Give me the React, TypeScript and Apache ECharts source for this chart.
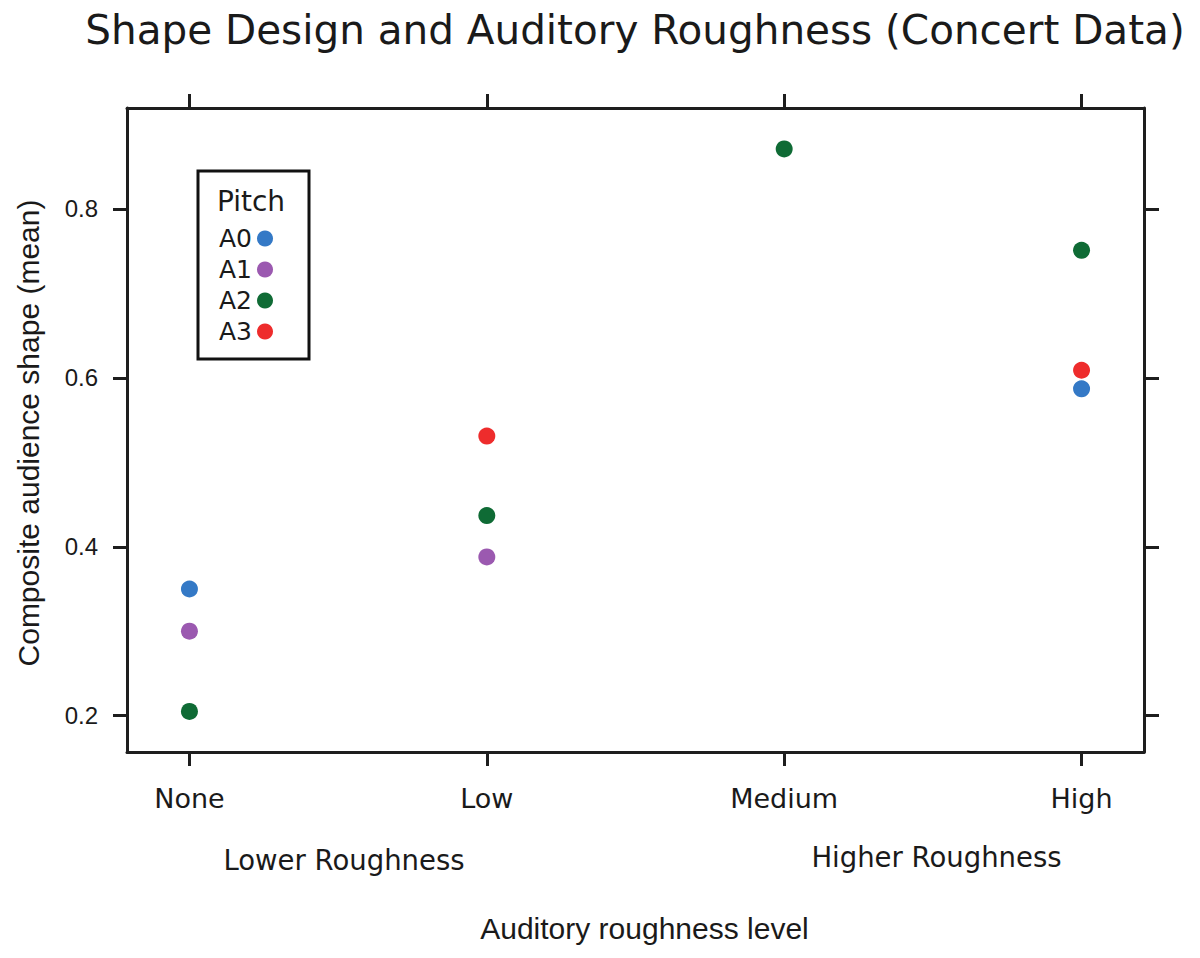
import React, { useEffect, useRef } from "react";
import * as echarts from "echarts";

const categories = ["None", "Low", "Medium", "High"];
const pitchNames = ["A0", "A1", "A2", "A3"];
const a0Values: (number | null)[] = [0.35, null, null, 0.587];
const a1Values: (number | null)[] = [0.3, 0.388, null, null];
const a2Values: (number | null)[] = [0.205, 0.437, 0.871, 0.751];
const a3Values: (number | null)[] = [null, 0.531, null, 0.609];
const yTickValues = [0.2, 0.4, 0.6, 0.8];
const xTickValues = [0, 1, 2, 3];

const pitchColors = ["#3479c6", "#9b59b0", "#0f6b35", "#ee2c2c"];
const seriesValues = [a0Values, a1Values, a2Values, a3Values];

const INK = "#1a1a1a";
const AXIS = "#1e1e1e";

export default function App() {
  const ref = useRef<HTMLDivElement>(null);

  useEffect(() => {
    document.body.style.margin = "0";
    if (!ref.current) return;
    const chart = echarts.init(ref.current, null, { renderer: "svg" });

    const axisLine = { show: true, onZero: false, lineStyle: { color: AXIS, width: 3 } };
    const tickStyle = { color: AXIS, width: 3 };

    const series = pitchNames.map((name, si) => ({
      name,
      type: "scatter",
      symbol: "circle",
      symbolSize: 17,
      itemStyle: { color: pitchColors[si], opacity: 1 },
      data: seriesValues[si]
        .map((v, i) => (v === null ? null : [i, v]))
        .filter((d) => d !== null),
    }));

    chart.setOption({
      animation: false,
      backgroundColor: "#ffffff",
      grid: { left: 127, right: 56, top: 108, bottom: 206 },
      xAxis: [
        {
          type: "value",
          position: "bottom",
          min: -0.21,
          max: 3.21,
          axisLine,
          splitLine: { show: false },
          axisTick: { show: true, customValues: xTickValues, length: 14, inside: false, lineStyle: tickStyle },
          axisLabel: {
            show: true,
            customValues: xTickValues,
            formatter: (v: number) => categories[Math.round(v)] ?? "",
            fontFamily: "DejaVu Sans",
            fontSize: 27,
            color: INK,
            margin: 33,
          },
        },
        {
          type: "value",
          position: "top",
          min: -0.21,
          max: 3.21,
          axisLine,
          splitLine: { show: false },
          axisTick: { show: true, customValues: xTickValues, length: 14, inside: false, lineStyle: tickStyle },
          axisLabel: { show: false },
        },
      ],
      yAxis: [
        {
          type: "value",
          position: "left",
          min: 0.157,
          max: 0.9195,
          axisLine,
          splitLine: { show: false },
          axisTick: { show: true, customValues: yTickValues, length: 14, inside: false, lineStyle: tickStyle },
          axisLabel: {
            show: true,
            customValues: yTickValues,
            formatter: (v: number) => v.toFixed(1),
            fontFamily: "Liberation Sans",
            fontSize: 24,
            color: INK,
            margin: 29,
          },
        },
        {
          type: "value",
          position: "right",
          min: 0.157,
          max: 0.9195,
          axisLine,
          splitLine: { show: false },
          axisTick: { show: true, customValues: yTickValues, length: 15, inside: false, lineStyle: tickStyle },
          axisLabel: { show: false },
        },
      ],
      legend: {
        orient: "vertical",
        left: 219,
        top: 226,
        align: "right",
        padding: 0,
        itemWidth: 16,
        itemHeight: 16,
        itemGap: 6,
        icon: "circle",
        data: pitchNames,
        textStyle: { fontFamily: "DejaVu Sans", fontSize: 25, color: INK },
      },
      graphic: [
        {
          type: "rect",
          shape: { x: 198, y: 171, width: 111, height: 188 },
          style: { fill: "none", stroke: "#111111", lineWidth: 3 },
          z: 10,
        },
        {
          type: "text",
          x: 251,
          y: 201,
          style: {
            text: "Pitch",
            fontFamily: "DejaVu Sans",
            fontSize: 28,
            fill: INK,
            align: "center",
            verticalAlign: "middle",
          },
        },
        {
          type: "text",
          x: 635,
          y: 30,
          style: {
            text: "Shape Design and Auditory Roughness (Concert Data)",
            fontFamily: "DejaVu Sans",
            fontSize: 40.5,
            fill: INK,
            align: "center",
            verticalAlign: "middle",
          },
        },
        {
          type: "text",
          x: 344,
          y: 860,
          style: {
            text: "Lower Roughness",
            fontFamily: "DejaVu Sans",
            fontSize: 27.5,
            fill: INK,
            align: "center",
            verticalAlign: "middle",
          },
        },
        {
          type: "text",
          x: 936.5,
          y: 857,
          style: {
            text: "Higher Roughness",
            fontFamily: "DejaVu Sans",
            fontSize: 27.5,
            fill: INK,
            align: "center",
            verticalAlign: "middle",
          },
        },
        {
          type: "text",
          x: 644.5,
          y: 928,
          style: {
            text: "Auditory roughness level",
            fontFamily: "Liberation Sans",
            fontSize: 30,
            fill: INK,
            align: "center",
            verticalAlign: "middle",
          },
        },
        {
          type: "text",
          x: 28,
          y: 433,
          rotation: Math.PI / 2,
          style: {
            text: "Composite audience shape (mean)",
            fontFamily: "Liberation Sans",
            fontSize: 30,
            fill: INK,
            align: "center",
            verticalAlign: "middle",
          },
        },
      ],
      series,
    });

    return () => {
      chart.dispose();
    };
  }, []);

  return <div ref={ref} style={{ width: 1200, height: 958 }} />;
}
